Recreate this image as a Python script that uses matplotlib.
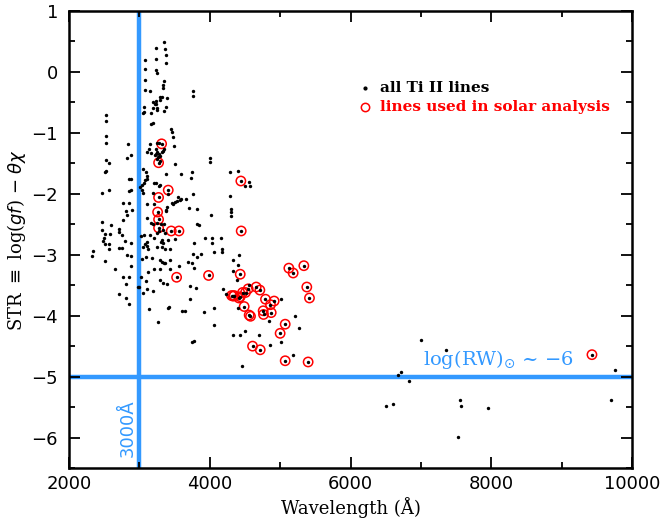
import matplotlib
matplotlib.use("Agg")
import matplotlib.pyplot as plt
from matplotlib.ticker import MultipleLocator

# all Ti II lines: wavelength (A), STR
wave_all = [
 2520,2525,2530,2530,2520,2568,2520,2511,2568,2473,
 2838,2880,2828,2875,2856,2880,2847,
 3084,3079,3074,3074,3065,3065,3046,3155,3188,3164,3164,3188,3235,3240,3235,3245,
 3344,3363,3372,3382,3349,3339,3334,3325,3297,3287,3240,3221,3230,3249,3245,3193,
 3391,3377,3344,3760,3760,3448,3462,3476,3491,3150,3140,3107,3159,3245,3282,3316,
 3235,3249,3240,3221,3282,3316,3330,3349,3268,3245,3297,3273,3292,3372,3500,
 3055,3098,3112,3107,3079,3065,3032,3013,3032,3050,3211,3235,3292,3278,3410,3401,
 3193,3273,3595,3727,3742,3756,3543,3590,3661,3998,4007,4291,4395,4442,4551,4504,
 4570,4291,
 2762,2852,2804,2899,2819,2767,2473,2596,2473,2516,2577,2492,2483,2714,2714,2748,
 2800,2875,2511,2568,2573,2714,2752,2819,2875,2345,2322,2516,2658,2880,2767,2852,
 2809,2714,2814,2852,2980,
 3112,3207,3259,3372,3382,3391,3472,3462,3500,3529,3576,3708,3813,4016,4305,4305,
 4305,3164,3193,3273,3273,3249,3301,3344,3112,3453,3562,3368,3330,3282,3254,3813,
 3841,4447,3060,3027,3145,3207,3316,3301,3330,3401,3500,3112,3084,3103,3046,3122,
 3245,3316,3368,3434,3775,3936,4026,4163,4026,4172,4172,4054,3869,3765,3813,3685,
 3746,3770,3562,3041,3098,3178,3292,3316,3344,3363,3434,3117,3211,3292,3434,3529,
 3983,3017,3098,3287,3339,3387,2989,3046,3112,3197,3718,3798,3723,3140,3406,3425,
 3600,3647,3912,4054,3268,4063,3770,3746,4324,4333,4400,4409,4433,4381,4182,4224,
 4310,4333,4414,4466,4508,4546,4556,4660,4712,4489,4395,4560,4579,4759,4764,4792,
 4863,4915,4873,5010,4844,5124,5185,5337,5379,5417,5213,5266,5072,5000,5010,4858,
 4702,4504,4428,4333,4608,4717,5072,5398,5185,4456,4347,4433,
 6998,7358,9431,6681,6719,6828,9753,6511,6610,7561,7576,7954,7533,9696,
]
str_all = [
 -0.71,-0.80,-1.05,-1.17,-1.44,-1.50,-1.62,-1.64,-1.93,-1.99,
 -1.19,-1.36,-1.41,-1.75,-1.76,-1.93,-1.95,
 0.19,0.04,-0.13,-0.29,-0.58,-0.65,-0.68,-0.31,-0.49,-0.68,-0.85,-0.84,0.40,0.22,0.03,-0.01,
 0.49,0.38,0.27,0.15,-0.15,-0.22,-0.26,-0.41,-0.41,-0.46,-0.47,-0.52,-0.53,-0.59,-0.62,-0.59,
 -0.43,-0.57,-0.64,-0.32,-0.39,-0.93,-0.99,-1.07,-1.21,-1.19,-1.26,-1.31,-1.33,-1.17,-1.17,-1.18,
 -1.26,-1.31,-1.34,-1.37,-1.34,-1.31,-1.29,-1.27,-1.40,-1.43,-1.38,-1.49,-1.46,-1.67,-1.51,
 -1.60,-1.65,-1.70,-1.75,-1.78,-1.82,-1.86,-1.89,-1.93,-1.98,-1.82,-1.82,-1.85,-1.87,-1.94,-2.01,
 -1.98,-2.06,-1.67,-1.74,-1.65,-2.01,-2.05,-2.09,-2.09,-1.42,-1.47,-1.64,-1.62,-1.79,-1.80,-1.88,
 -1.88,-2.03,
 -2.15,-2.15,-2.28,-2.26,-2.35,-2.43,-2.46,-2.51,-2.60,-2.66,-2.66,-2.72,-2.77,-2.57,-2.63,-2.67,
 -2.77,-2.80,-2.83,-2.83,-2.91,-2.89,-2.89,-3.00,-3.02,-2.94,-3.02,-3.11,-3.23,-3.19,-3.36,-3.36,
 -3.48,-3.65,-3.71,-3.81,-3.53,
 -2.17,-2.16,-2.30,-2.28,-2.26,-2.22,-2.17,-2.15,-2.13,-2.11,-2.10,-2.23,-2.25,-2.35,-2.25,-2.30,
 -2.36,-2.48,-2.49,-2.42,-2.56,-2.48,-2.49,-2.50,-2.39,-2.61,-2.61,-2.64,-2.60,-2.61,-2.65,-2.49,
 -2.52,-2.61,-2.68,-2.69,-2.68,-2.72,-2.75,-2.79,-2.80,-2.76,-2.74,-2.79,-2.83,-2.85,-2.87,-2.90,
 -2.87,-2.88,-2.90,-2.91,-2.81,-2.72,-2.72,-2.72,-2.81,-2.90,-2.95,-2.96,-2.98,-2.99,-3.04,-3.12,
 -3.14,-3.21,-3.19,-3.07,-3.04,-3.06,-3.09,-3.12,-3.13,-3.14,-3.09,-3.28,-3.24,-3.24,-3.24,-3.37,
 -3.34,-3.36,-3.43,-3.42,-3.46,-3.48,-3.53,-3.62,-3.57,-3.60,-3.52,-3.54,-3.72,-3.89,-3.87,-3.86,
 -3.93,-3.93,-3.94,-3.88,-4.11,-4.16,-4.41,-4.44,-3.09,-3.26,-3.17,-3.01,-3.32,-3.42,-3.56,-3.65,
 -3.67,-3.68,-3.71,-3.62,-3.62,-3.56,-3.50,-3.53,-3.58,-3.85,-3.88,-3.99,-4.01,-3.92,-3.98,-3.73,
 -3.82,-3.76,-3.95,-3.72,-4.08,-3.22,-3.30,-3.18,-3.53,-3.71,-4.00,-4.21,-4.14,-4.29,-4.44,-4.48,
 -4.32,-4.25,-4.31,-4.31,-4.50,-4.56,-4.74,-4.76,-4.65,-4.82,-3.67,-3.69,
 -4.40,-4.56,-4.64,-4.98,-4.93,-5.08,-4.89,-5.49,-5.45,-5.39,-5.49,-5.51,-5.99,-5.39,
]

# lines used in solar analysis
wave_sol = [3316,3273,3410,3273,4442,3259,3273,3273,3453,3562,4447,3529,3983,4433,
            4310,4333,4347,4433,4414,4466,4508,4546,4660,4712,4489,4560,4579,4759,4764,
            4792,4863,4915,4873,5124,5185,5337,5379,5417,5072,5000,4608,4717,5072,5398,9431]
str_sol = [-1.18,-1.49,-1.94,-2.06,-1.79,-2.30,-2.42,-2.56,-2.61,-2.61,-2.61,-3.37,-3.34,-3.32,
           -3.67,-3.68,-3.67,-3.69,-3.71,-3.62,-3.62,-3.56,-3.53,-3.58,-3.85,-3.99,-4.01,-3.92,-3.98,
           -3.73,-3.82,-3.76,-3.95,-3.22,-3.30,-3.18,-3.53,-3.71,-4.14,-4.29,-4.50,-4.56,-4.74,-4.76,-4.64]

wave_limit = 3000
str_limit = -5

blue = "#3399ff"
fig = plt.figure(figsize=(6.63, 5.24), dpi=100)
ax = fig.add_axes([69/663, 1-468/524, 563/663, 457/524])

ax.axvline(wave_limit, color=blue, lw=3.2, zorder=1)
ax.axhline(str_limit, color=blue, lw=3.2, zorder=1)

ax.scatter(wave_sol, str_sol, s=45, facecolors="none", edgecolors="red", linewidths=1.1, zorder=2)
ax.scatter(wave_all, str_all, s=6, color="black", linewidths=0, zorder=3)

ax.set_xlim(2000, 10000)
ax.set_ylim(-6.5, 1)
ax.xaxis.set_major_locator(MultipleLocator(2000))
ax.xaxis.set_minor_locator(MultipleLocator(1000))
ax.yaxis.set_major_locator(MultipleLocator(1))
ax.yaxis.set_minor_locator(MultipleLocator(0.5))
ax.tick_params(which="both", direction="in", top=True, right=True, width=1.3)
ax.tick_params(which="major", length=8, labelsize=13)
ax.tick_params(axis="x", which="major", pad=5)
ax.tick_params(axis="y", which="major", pad=8)
ax.tick_params(which="minor", length=4)
for s in ax.spines.values():
    s.set_linewidth(1.8)

ax.set_xlabel("Wavelength (Å)", family="DejaVu Serif", fontsize=13, labelpad=3)
ax.set_ylabel(r"STR $\equiv$ log($gf$) $-$ $\theta\chi$", family="DejaVu Serif", fontsize=13, labelpad=2)

ax.text(2840, -5.85, "3000Å", rotation=90, color=blue, fontsize=13, ha="center", va="center",
        family="DejaVu Sans")
ax.text(8100, -4.72, r"log(RW)$_{\odot}$ ~ $-$6", color=blue, fontsize=14, ha="center", va="center",
        family="DejaVu Serif")

# legend
ax.plot([0.526], [0.832], marker="o", ms=2, color="black", transform=ax.transAxes, ls="none")
ax.plot([0.526], [0.790], marker="o", ms=6, mfc="none", mec="red", mew=1.1, transform=ax.transAxes, ls="none")
ax.text(0.552, 0.832, "all Ti II lines", transform=ax.transAxes, fontsize=11, fontweight="bold",
        family="DejaVu Serif", va="center", ha="left", color="black")
ax.text(0.552, 0.790, "lines used in solar analysis", transform=ax.transAxes, fontsize=11,
        fontweight="bold", family="DejaVu Serif", va="center", ha="left", color="red")

fig.savefig("out.png", dpi=100)
